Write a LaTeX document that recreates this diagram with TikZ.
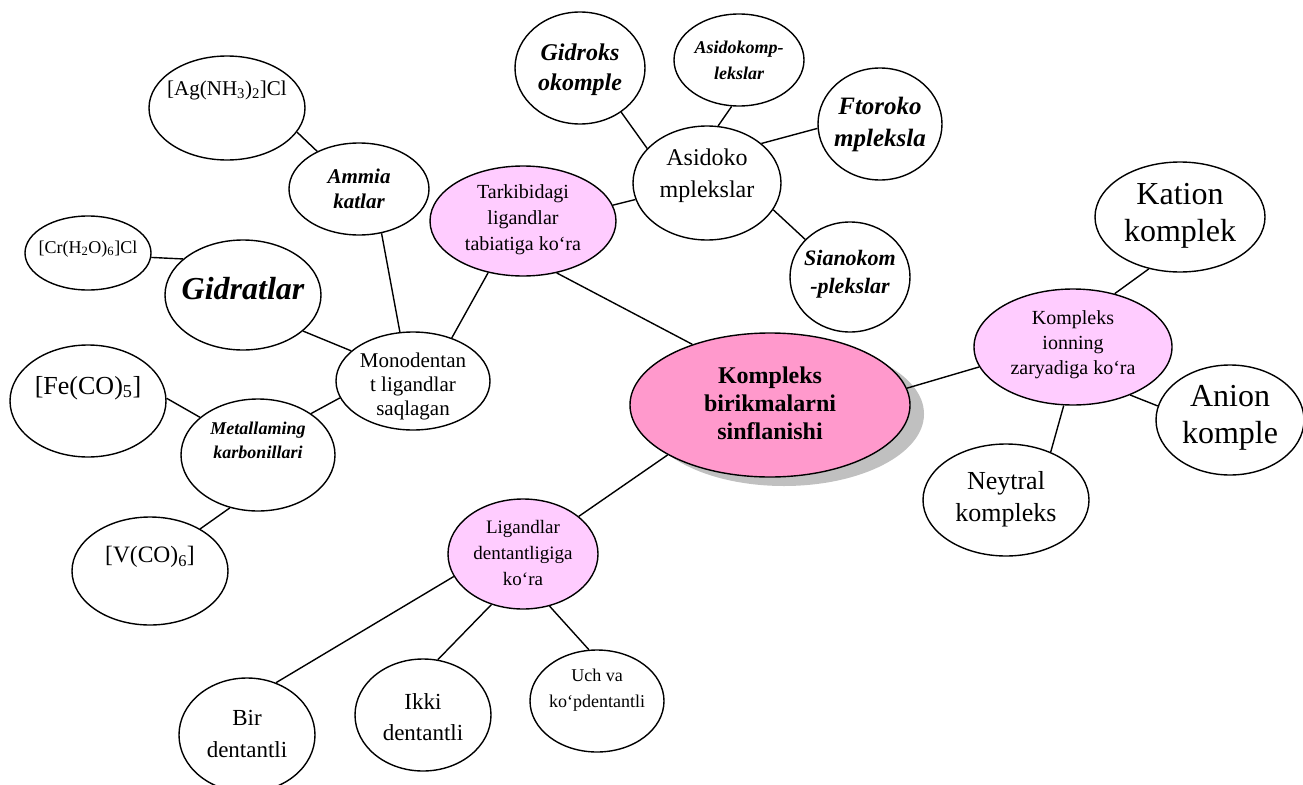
\documentclass[tikz,border=0pt]{standalone}
\usepackage{fontspec}
\setmainfont{Liberation Serif}
\usetikzlibrary{shapes.geometric}

\definecolor{catpink}{RGB}{255,204,255}
\definecolor{mainpink}{RGB}{255,153,204}
\definecolor{shadowgray}{RGB}{192,192,192}

\newcommand{\fz}[2]{\fontsize{#1}{#2}\selectfont}

\tikzset{
  bubble/.style={draw, ellipse, line width=1.4pt, inner sep=0pt, fill=white},
  catbubble/.style={bubble, fill=catpink},
  txt/.style={align=center, inner sep=0pt},
  link/.style={line width=1.4pt},
}

\begin{document}
\begin{tikzpicture}[x=1pt,y=-1pt]
    \clip (0,0) rectangle (1303,784);

    % bosh ellips (soya bilan)
    \node[bubble, draw=none, fill=shadowgray, minimum width=280pt, minimum height=144pt] (shadow) at (784,414) {};
    \node[bubble, fill=mainpink, minimum width=280pt, minimum height=144pt] (main) at (770,405) {};
    \node[txt, font=\fz{24}{28}\bfseries] (main-t) at (770,403) {Kompleks\\birikmalarni\\sinflanishi};

    % toifalar
    \node[catbubble, minimum width=186pt, minimum height=110pt] (tark) at (523,221) {};
    \node[txt, font=\fz{20}{26}] (tark-t) at (523,220) {Tarkibidagi\\ligandlar\\tabiatiga ko‘ra};
    \node[catbubble, minimum width=150pt, minimum height=110pt] (lig) at (523,554) {};
    \node[txt, font=\fz{19}{26}] (lig-t) at (523,553) {Ligandlar\\dentantligiga\\ko‘ra};
    \node[catbubble, minimum width=198pt, minimum height=116pt] (ion) at (1073,347) {};
    \node[txt, font=\fz{20}{25}] (ion-t) at (1073,345) {Kompleks\\ionning\\zaryadiga ko‘ra};

    % monodentant tarmog'i
    \node[bubble, minimum width=154pt, minimum height=98pt] (mono) at (413,381) {};
    \node[txt, font=\fz{21}{24}] (mono-t) at (413,386) {Monodentan\\t ligandlar\\saqlagan};
    \node[bubble, minimum width=140pt, minimum height=92pt] (ammia) at (359,189) {};
    \node[txt, font=\fz{21}{25}\bfseries\itshape] (ammia-t) at (359,189) {Ammia\\katlar};
    \node[bubble, minimum width=156pt, minimum height=104pt] (ag) at (227,108) {};
    \node[txt, font=\fz{21}{24}] (ag-t) at (227,90) {[Ag(NH\textsubscript{3})\textsubscript{2}]Cl};
    \node[bubble, minimum width=156pt, minimum height=110pt] (gid) at (243,295) {};
    \node[txt, font=\fz{32}{36}\bfseries\itshape] (gid-t) at (243,289) {Gidratlar};
    \node[bubble, minimum width=126pt, minimum height=74pt] (cr) at (88,253) {};
    \node[txt, font=\fz{18}{20}] (cr-t) at (88,249) {[Cr(H\textsubscript{2}O)\textsubscript{6}]Cl};
    \node[bubble, minimum width=154pt, minimum height=112pt] (met) at (258,455) {};
    \node[txt, font=\fz{18}{24}\bfseries\itshape] (met-t) at (258,440) {Metallaming\\karbonillari};
    \node[bubble, minimum width=156pt, minimum height=112pt] (fe) at (88,401) {};
    \node[txt, font=\fz{26}{28}] (fe-t) at (88,388) {[Fe(CO)\textsubscript{5}]};
    \node[bubble, minimum width=156pt, minimum height=108pt] (vco) at (150,571) {};
    \node[txt, font=\fz{23.5}{26}] (vco-t) at (150,557) {[V(CO)\textsubscript{6}]};

    % asidokomplekslar tarmog'i
    \node[bubble, minimum width=148pt, minimum height=114pt] (asid) at (707,183) {};
    \node[txt, font=\fz{24}{32}] (asid-t) at (707,176) {Asidoko\\mplekslar};
    \node[bubble, minimum width=130pt, minimum height=112pt] (gidroks) at (580,68) {};
    \node[txt, font=\fz{24}{30}\bfseries\itshape] (gidroks-t) at (580,70) {Gidroks\\okomple};
    \node[bubble, minimum width=130pt, minimum height=92pt] (asidk) at (739,60) {};
    \node[txt, font=\fz{18}{26}\bfseries\itshape] (asidk-t) at (739,60) {Asidokomp-\\lekslar};
    \node[bubble, minimum width=124pt, minimum height=112pt] (ftoro) at (880,124) {};
    \node[txt, font=\fz{25}{32}\bfseries\itshape] (ftoro-t) at (880,124) {Ftoroko\\mpleksla};
    \node[bubble, minimum width=120pt, minimum height=110pt] (siano) at (850,277) {};
    \node[txt, font=\fz{22}{28}\bfseries\itshape] (siano-t) at (850,274) {Sianokom\\-plekslar};

    % dentantlik
    \node[bubble, minimum width=136pt, minimum height=114pt] (bir) at (247,735) {};
    \node[txt, font=\fz{23}{32}] (bir-t) at (247,734) {Bir\\dentantli};
    \node[bubble, minimum width=136pt, minimum height=112pt] (ikki) at (423,715) {};
    \node[txt, font=\fz{23}{31}] (ikki-t) at (423,717) {Ikki\\dentantli};
    \node[bubble, minimum width=134pt, minimum height=102pt] (uch) at (597,701) {};
    \node[txt, font=\fz{18}{26}] (uch-t) at (597,690) {Uch va\\ko‘pdentantli};

    % zaryad bo'yicha
    \node[bubble, minimum width=170pt, minimum height=110pt] (kat) at (1180,217) {};
    \node[txt, font=\fz{32}{37}] (kat-t) at (1180,216) {Kation\\komplek};
    \node[bubble, minimum width=148pt, minimum height=110pt] (an) at (1230,420) {};
    \node[txt, font=\fz{32}{37}] (an-t) at (1230,418) {Anion\\komple};
    \node[bubble, minimum width=166pt, minimum height=112pt] (ney) at (1006,500) {};
    \node[txt, font=\fz{26}{32}] (ney-t) at (1006,499) {Neytral\\kompleks};

    % bog'lovchi chiziqlar
    \draw[link] (ag.-19) -- (ammia.138);
    \draw[link] (ammia.-63) -- (mono.105);
    \draw[link] (cr.-4) -- (gid.149);
    \draw[link] (gid.-31) -- (mono.154);
    \draw[link] (fe.2) -- (met.147);
    \draw[link] (met.38) -- (mono.193);
    \draw[link] (met.242) -- (vco.40);
    \draw[link] (tark.236) -- (mono.48);
    \draw[link] (tark.10) -- (asid.193);
    \draw[link] (tark.-57) -- (main.142);
    \draw[link] (gidroks.-47) -- (asid.150);
    \draw[link] (asidk.261) -- (asid.79);
    \draw[link] (ftoro.184) -- (asid.36);
    \draw[link] (asid.-22) -- (siano.140);
    \draw[link] (main.206) -- (lig.34);
    \draw[link] (lig.198) -- (bir.61);
    \draw[link] (lig.238) -- (ikki.75);
    \draw[link] (lig.-63) -- (uch.99);
    \draw[link] (main.7) -- (ion.192);
    \draw[link] (ion.52) -- (kat.239);
    \draw[link] (ion.-40) -- (an.169);
    \draw[link] (ion.261) -- (ney.47);
\end{tikzpicture}
\end{document}
